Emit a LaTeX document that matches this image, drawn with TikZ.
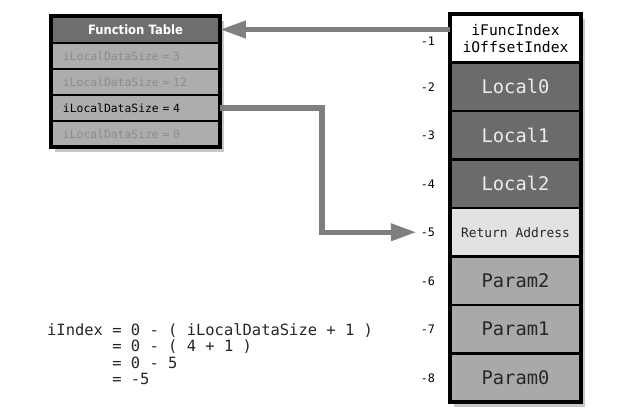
\documentclass[tikz,border=0pt]{standalone}
\usepackage{fontspec}
\setmonofont{DejaVu Sans Mono}
\newfontfamily\hdrfont{DejaVu Sans Condensed}
\usepackage{tikz}
\usetikzlibrary{arrows.meta,backgrounds}

\definecolor{hdrgray}{HTML}{6E6E6E}
\definecolor{rowgray}{HTML}{ADADAD}
\definecolor{fadetxt}{HTML}{8C8C8C}
\definecolor{localgray}{HTML}{6B6B6B}
\definecolor{localtxt}{HTML}{ECECEC}
\definecolor{paramgray}{HTML}{A9A9A9}
\definecolor{paramtxt}{HTML}{262626}
\definecolor{retgray}{HTML}{E2E2E2}
\definecolor{arrgray}{HTML}{7F7F7F}

\begin{document}
\begin{tikzpicture}[x=0.03cm, y=-0.03cm,
  stk/.style={draw=black, line width=2.4pt, outer sep=0pt,
              minimum width=3.93cm, minimum height=1.455cm, align=center,
              font=\ttfamily\fontsize{16}{18}\selectfont},
  loc/.style={stk, fill=localgray, text=localtxt},
  prm/.style={stk, fill=paramgray, text=paramtxt},
  tblrow/.style={draw=black, line width=1.6pt, fill=rowgray, outer sep=0pt,
              minimum height=0.78cm, text width=4.35cm, inner xsep=0.36cm,
              inner ysep=0pt, align=left, text=fadetxt,
              font=\ttfamily\fontsize{9.7}{11}\selectfont},
  idx/.style={anchor=east, font=\ttfamily\fontsize{10}{12}\selectfont},
  arr/.style={-{Triangle[length=22pt, width=14pt]}, line width=4.7pt, draw=arrgray},
  frame/.style={draw=black, line width=2.8pt},
  shade/.style={fill=black, opacity=0.22},
]
\useasboundingbox (0,0) rectangle (641,416);

% ---- Function table --------------------------------------------------------
\node[tblrow, fill=hdrgray, text=white, align=center, minimum height=0.81cm,
      font=\hdrfont\bfseries\fontsize{11}{13}\selectfont]
  (hdr) at (135.5,29.5) {Function Table};
\node[tblrow] (r1) at (135.5,56)  {iLocalDataSize = 3};
\node[tblrow] (r2) at (135.5,82)  {iLocalDataSize = 12};
\node[tblrow, text=black] (r3) at (135.5,108) {iLocalDataSize = 4};
\node[tblrow] (r4) at (135.5,134) {iLocalDataSize = 0};
\draw[frame] (hdr.north west) rectangle (r4.south east);

% ---- Stack frame -----------------------------------------------------------
\node[stk, fill=white, font=\ttfamily\fontsize{12.5}{14.5}\selectfont]
  (s1) at (515.5,38.25) {iFuncIndex\\iOffsetIndex};
\node[loc] (s2) at (515.5,86.75)  {Local0};
\node[loc] (s3) at (515.5,135.25) {Local1};
\node[loc] (s4) at (515.5,183.75) {Local2};
\node[stk, fill=retgray, text=paramtxt, font=\ttfamily\fontsize{11}{13}\selectfont]
  (s5) at (515.5,232.25) {Return Address};
\node[prm] (s6) at (515.5,280.75) {Param2};
\node[prm] (s7) at (515.5,329.25) {Param1};
\node[prm] (s8) at (515.5,377.75) {Param0};
\draw[frame] (s1.north west) rectangle (s8.south east);

% ---- Index labels ----------------------------------------------------------
\node[idx] (i1) at (439,41)     {-1};
\node[idx] (i2) at (439,86.75)  {-2};
\node[idx] (i3) at (439,135.25) {-3};
\node[idx] (i4) at (439,183.75) {-4};
\node[idx] (i5) at (439,232.25) {-5};
\node[idx] (i6) at (439,280.75) {-6};
\node[idx] (i7) at (439,329.25) {-7};
\node[idx] (i8) at (439,377.75) {-8};

% ---- Shadows ---------------------------------------------------------------
\begin{scope}[on background layer]
  \fill[shade] ([shift={(4,5)}]hdr.north west) rectangle ([shift={(4,5)}]r4.south east);
  \fill[shade] ([shift={(4,5)}]s1.north west) rectangle ([shift={(4,5)}]s8.south east);
\end{scope}

% ---- Arrows ----------------------------------------------------------------
\draw[arr] (hdr.east -| s1.west) -- (hdr.east);
\coordinate (bend) at (322,108);
\draw[arr] (r3.east) -- (bend) |- (i5.west);

% ---- Index calculation -----------------------------------------------------
\node[anchor=west, align=left, text=black!85,
      font=\ttfamily\fontsize{13.2}{14}\selectfont]
  (calc) at (43,354)
  {iIndex = 0 - ( iLocalDataSize + 1 )\\
   \phantom{iIndex }= 0 - ( 4 + 1 )\\
   \phantom{iIndex }= 0 - 5\\
   \phantom{iIndex }= -5};

\end{tikzpicture}
\end{document}
